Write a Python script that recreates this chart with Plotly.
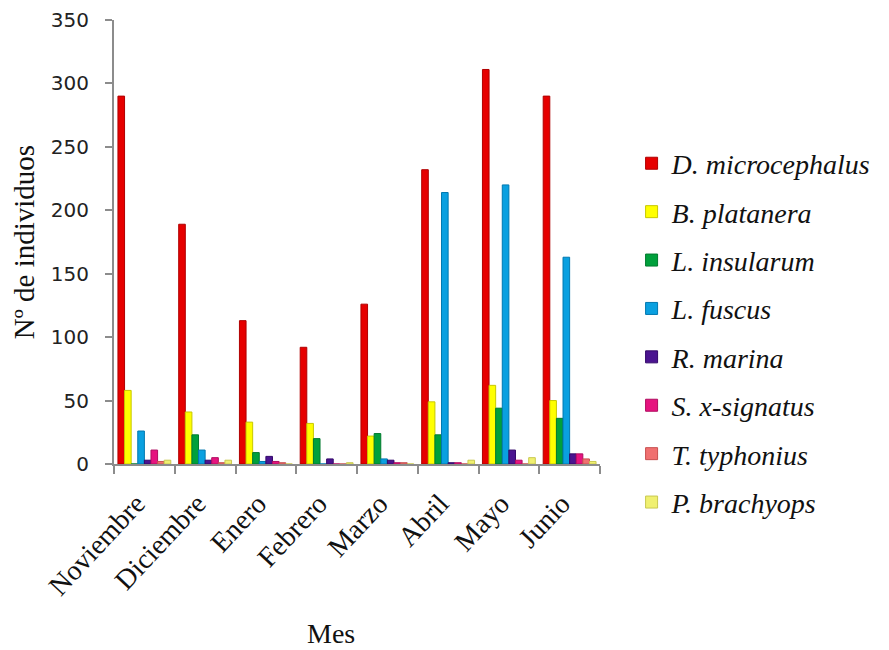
import plotly.graph_objects as go

months = ["Noviembre", "Diciembre", "Enero", "Febrero", "Marzo", "Abril", "Mayo", "Junio"]

species = ["D. microcephalus", "B. platanera", "L. insularum", "L. fuscus",
           "R. marina", "S. x-signatus", "T. typhonius", "P. brachyops"]

d_microcephalus = [290, 189, 113, 92, 126, 232, 311, 290]
b_platanera     = [58, 41, 33, 32, 22, 49, 62, 50]
l_insularum     = [0, 23, 9, 20, 24, 23, 44, 36]
l_fuscus        = [26, 11, 2, 0, 4, 214, 220, 163]
r_marina        = [3, 3, 6, 4, 3, 1, 11, 8]
s_xsignatus     = [11, 5, 2, 0, 1, 1, 3, 8]
t_typhonius     = [2, 1, 1, 0, 1, 0, 0, 4]
p_brachyops     = [3, 3, 0, 1, 0, 3, 5, 2]

series = [d_microcephalus, b_platanera, l_insularum, l_fuscus,
          r_marina, s_xsignatus, t_typhonius, p_brachyops]

colors = ["#E60000", "#FFFF00", "#00A03C", "#0AA0E0",
          "#4B1490", "#E6137F", "#F07070", "#F0F070"]
edges = ["#B00000", "#C8C800", "#007A2E", "#0078B0",
         "#33086A", "#B00D60", "#C85050", "#C8C850"]

fig = go.Figure()
for name, vals, c, e in zip(species, series, colors, edges):
    fig.add_trace(go.Bar(
        x=months, y=vals, name="<i>" + name + "</i>", legendgroup=name,
        marker=dict(color=c, line=dict(color=e, width=1)),
    ))

plot_w = 889 - 114 - 289
plot_h = 650 - 20 - 186

fig.update_layout(
    width=889, height=650,
    margin=dict(l=114, r=289, t=20, b=186),
    paper_bgcolor="white", plot_bgcolor="white",
    barmode="group", bargap=0.13, bargroupgap=0.0,
    showlegend=True,
    legend=dict(
        x=1.065, y=0.733, xanchor="left", yanchor="top",
        font=dict(family="Liberation Serif", size=28, color="#111"),
        tracegroupgap=9, itemwidth=30,
        bgcolor="rgba(0,0,0,0)",
    ),
    xaxis=dict(
        automargin=False,
        showline=True, linecolor="#8C8C8C", linewidth=2,
        ticks="outside", tickson="boundaries", ticklen=8, tickcolor="#8C8C8C", tickwidth=2,
        tickangle=-47, ticklabelstandoff=10, ticklabelshift=-8,
        tickfont=dict(family="Liberation Serif", size=28, color="#111"),
        showgrid=False,
    ),
    yaxis=dict(
        automargin=False,
        range=[0, 350], dtick=50,
        showline=True, linecolor="#8C8C8C", linewidth=2,
        ticks="outside", ticklen=7, tickcolor="#8C8C8C", tickwidth=2,
        ticklabelstandoff=12,
        tickfont=dict(family="DejaVu Sans", size=20, color="#222"),
        title=dict(text="Nº de individuos", font=dict(family="Liberation Serif", size=29, color="#111"), standoff=8),
        showgrid=False, zeroline=False,
    ),
    annotations=[dict(
        text="Mes", xref="paper", yref="paper", showarrow=False,
        x=(331 - 114) / plot_w, y=(650 - 186 - 633) / plot_h,
        xanchor="center", yanchor="middle",
        font=dict(family="Liberation Serif", size=28, color="#111"),
    )],
)
fig.write_html("out.html")
